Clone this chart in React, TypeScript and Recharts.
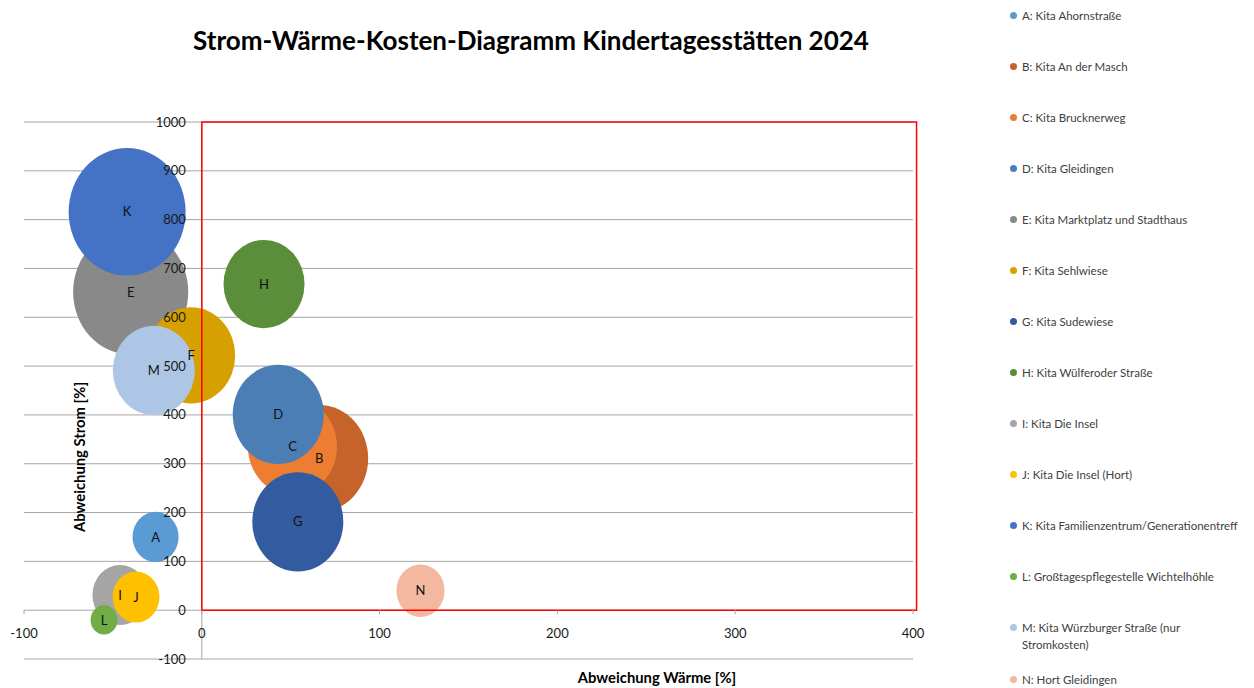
import React from 'react';
import { ScatterChart, Scatter, XAxis, YAxis, ZAxis, CartesianGrid, ReferenceLine, ReferenceArea, LabelList } from 'recharts';

// Kitas: Abweichung Wärme (x), Abweichung Strom (y), Kosten (Blasengröße)
const letters = ['A', 'B', 'C', 'D', 'E', 'F', 'G', 'H', 'I', 'J', 'K', 'L', 'M', 'N'];
const names = [
  'Kita Ahornstraße',
  'Kita An der Masch',
  'Kita Brucknerweg',
  'Kita Gleidingen',
  'Kita Marktplatz und Stadthaus',
  'Kita Sehlwiese',
  'Kita Sudewiese',
  'Kita Wülferoder Straße',
  'Kita Die Insel',
  'Kita Die Insel (Hort)',
  'Kita Familienzentrum/Generationentreff',
  'Großtagespflegestelle Wichtelhöhle',
  'Kita Würzburger Straße (nur\nStromkosten)',
  'Hort Gleidingen',
];
const waerme = [-26, 66, 51, 43, -40, -6, 54, 35, -46, -37, -42, -55, -27, 123];
const strom = [150, 311, 335, 401, 652, 522, 181, 668, 31, 27, 816, -20, 491, 40];
const kosten = [53, 240, 198, 207, 331, 194, 207, 164, 76, 55, 342, 18, 168, 58];
const colors = [
  '#5B9BD5', '#C5632B', '#ED7D31', '#4A7EB5', '#898989', '#D6A100', '#335B9F',
  '#5A8E3A', '#A5A5A5', '#FFC000', '#4472C4', '#70AD47', '#ADC6E6', '#F4B8A0',
];
const xTicks = [-100, 0, 100, 200, 300, 400];
const yTicks = [-100, 0, 100, 200, 300, 400, 500, 600, 700, 800, 900, 1000];

const W = 1254;
const H = 688;
const PLOT = { left: 24, top: 122, right: 913, bottom: 659 };
const X_MIN = -100, X_MAX = 400, Y_MIN = -100, Y_MAX = 1000;
const Y_AXIS_W = 20;
const X_AXIS_H = 20;
// pixel position of the crossing axes (x = 0, y = 0)
const AXIS_X = PLOT.left + ((PLOT.right - PLOT.left) * (0 - X_MIN)) / (X_MAX - X_MIN);
const AXIS_Y = PLOT.top + ((PLOT.bottom - PLOT.top) * (Y_MAX - 0)) / (Y_MAX - Y_MIN);
const MAX_R = 58.5;
const ASPECT = 1.09;
const GRID = '#A6A6A6';
const FONT = 'Lato, "Open Sans", sans-serif';

const series = letters.map((l, i) => ({
  key: l,
  color: colors[i],
  data: [{ x: waerme[i], y: strom[i], z: kosten[i], label: l }],
}));
const allPoints = letters.map((l, i) => ({ x: waerme[i], y: strom[i], z: kosten[i], label: l }));

const XTick = (props: any) => {
  const { x, payload } = props;
  return (
    <g>
      <line x1={x} x2={x} y1={AXIS_Y} y2={AXIS_Y + 4} stroke={GRID} />
      <text x={x} y={AXIS_Y + 23} dy="0.35em" textAnchor="middle" fontSize={13} fill="#1a1a1a" fontFamily={FONT}>
        {payload.value}
      </text>
    </g>
  );
};

const YTick = (props: any) => {
  const { y, payload } = props;
  return (
    <text x={AXIS_X - 16} y={y} dy="0.35em" textAnchor="end" fontSize={13} fill="#1a1a1a" fontFamily={FONT}>
      {payload.value}
    </text>
  );
};

const bubble = (color: string) => (props: any) => {
  const { cx, cy, width } = props;
  const r = width / 2;
  return <ellipse cx={cx} cy={cy} rx={r} ry={r * ASPECT} fill={color} />;
};

const App: React.FC = () => {
  return (
    <div style={{ position: 'absolute', left: 0, top: 0, width: W, height: H, fontFamily: FONT, background: '#fff' }}>
      <div
        style={{
          position: 'absolute', left: 531, top: 40, transform: 'translate(-50%, -50%)',
          fontSize: 26, fontWeight: 700, color: '#000', whiteSpace: 'nowrap',
        }}
      >
        Strom-Wärme-Kosten-Diagramm Kindertagesstätten 2024
      </div>

      <ScatterChart
        width={W}
        height={H}
        margin={{
          top: PLOT.top,
          left: PLOT.left - Y_AXIS_W,
          right: W - PLOT.right,
          bottom: H - PLOT.bottom - X_AXIS_H,
        }}
      >
        <CartesianGrid horizontal vertical={false} stroke={GRID} />
        <XAxis
          type="number"
          dataKey="x"
          domain={[X_MIN, X_MAX]}
          ticks={xTicks}
          interval={0}
          height={X_AXIS_H}
          axisLine={false}
          tickLine={false}
          tick={<XTick />}
          allowDataOverflow
        />
        <YAxis
          type="number"
          dataKey="y"
          domain={[Y_MIN, Y_MAX]}
          ticks={yTicks}
          interval={0}
          width={Y_AXIS_W}
          axisLine={false}
          tickLine={false}
          tick={<YTick />}
          allowDataOverflow
        />
        <ZAxis type="number" dataKey="z" domain={[0, 342]} range={[0, Math.PI * MAX_R * MAX_R]} />
        <ReferenceLine x={0} stroke={GRID} />
        {series.map((s) => (
          <Scatter
            key={s.key}
            name={s.key}
            data={s.data}
            fill={s.color}
            shape={bubble(s.color)}
            isAnimationActive={false}
          />
        ))}
        <ReferenceArea
          x1={0}
          x2={402}
          y1={0}
          y2={1000}
          fill="none"
          stroke="#FF0000"
          strokeWidth={1.5}
          ifOverflow="visible"
          zIndex={1000}
        />
        <Scatter data={allPoints} shape={() => <g />} isAnimationActive={false} legendType="none">
          <LabelList dataKey="label" position="center" fill="#111" fontSize={13} fontFamily={FONT} />
        </Scatter>
      </ScatterChart>

      <div
        style={{
          position: 'absolute', left: 79, top: 457, transform: 'translate(-50%, -50%) rotate(-90deg)',
          fontSize: 14.8, fontWeight: 700, color: '#000', whiteSpace: 'nowrap',
        }}
      >
        Abweichung Strom [%]
      </div>
      <div
        style={{
          position: 'absolute', left: 657, top: 677, transform: 'translate(-50%, -50%)',
          fontSize: 14.8, fontWeight: 700, color: '#000', whiteSpace: 'nowrap',
        }}
      >
        Abweichung Wärme [%]
      </div>

      {/* Legend */}
      <div style={{ position: 'absolute', left: 1010, top: 0 }}>
        {letters.map((l, i) => (
          <div
            key={l}
            style={{
              position: 'absolute', left: 0, top: 15 + i * 51.08 - 8.5, display: 'flex', alignItems: 'flex-start',
              fontSize: 11.5, lineHeight: '17px', color: '#404040', whiteSpace: 'pre',
            }}
          >
            <span
              style={{
                display: 'inline-block', width: 7, height: 7, borderRadius: '50%', background: colors[i],
                marginTop: 5, marginRight: 5, flex: 'none',
              }}
            />
            <span>{`${l}: ${names[i]}`}</span>
          </div>
        ))}
      </div>
    </div>
  );
};

export default App;
